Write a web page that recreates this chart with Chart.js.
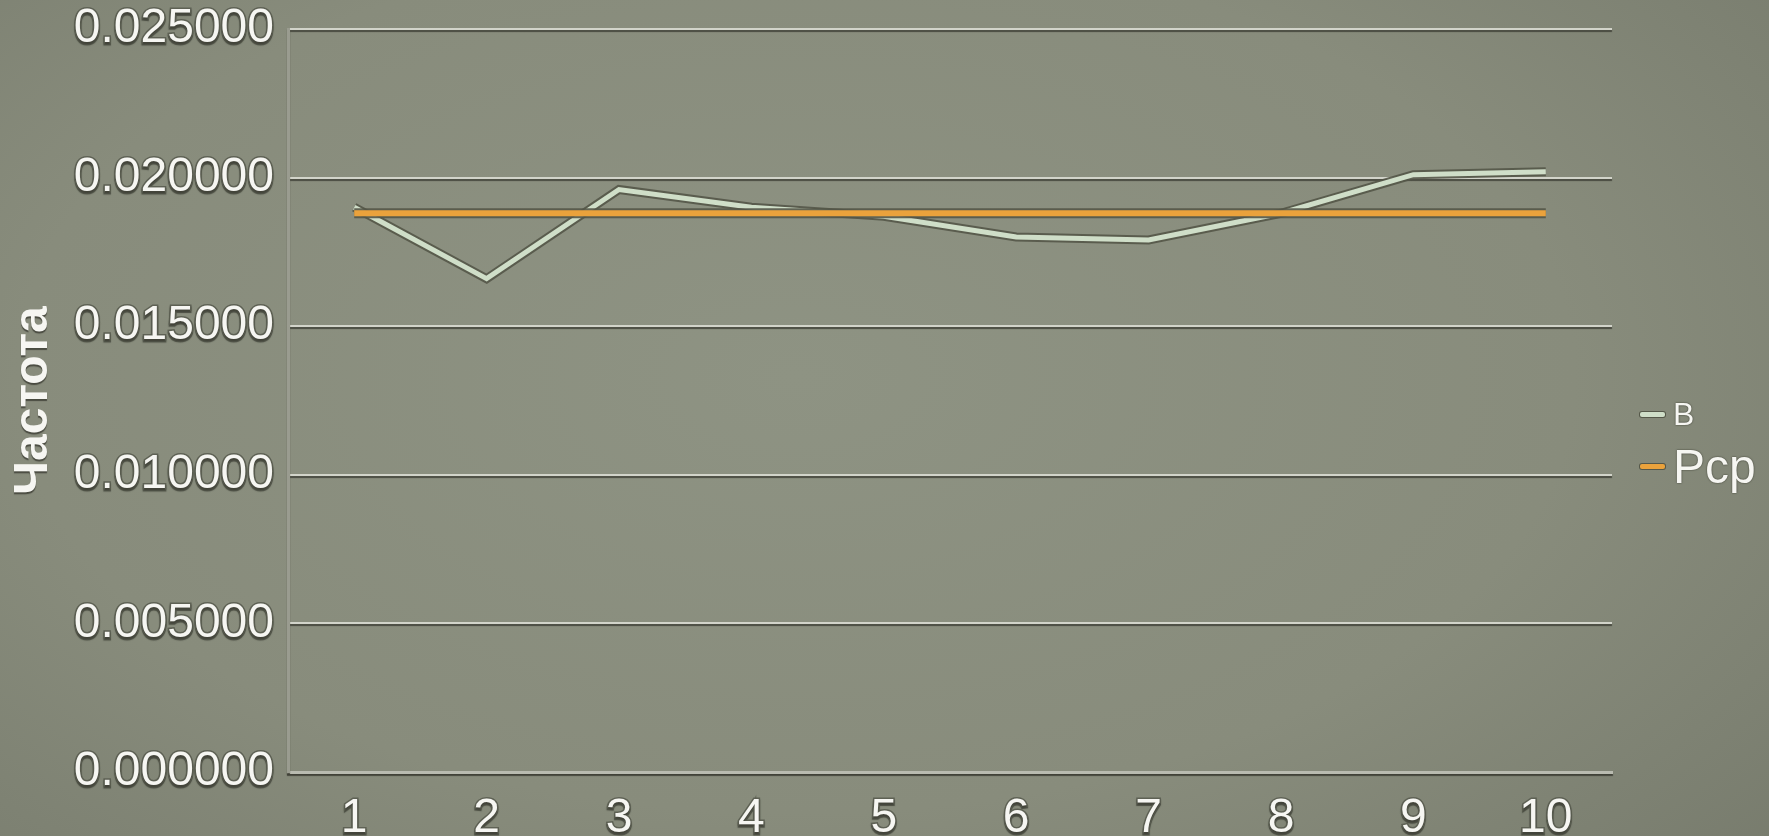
<!DOCTYPE html>
<html>
<head>
<meta charset="utf-8">
<script src="https://cdn.jsdelivr.net/npm/chart.js@4.4.0/dist/chart.umd.min.js"></script>
<style>
  html, body { margin: 0; padding: 0; overflow: hidden; }
  body {
    width: 1769px; height: 836px; position: relative;
    background: radial-gradient(ellipse 80% 95% at 45% 45%, #8e9383 0%, #888c7c 55%, #74786a 100%);
    font-family: "Liberation Sans", Arial, sans-serif;
  }
  #myChart { position: absolute; left: 0; top: 0; }
  #legend { position: absolute; left: 1640px; top: 388px; }
  .item { display: flex; align-items: center; height: 52px; }
  .sw { width: 25px; height: 5px; margin-right: 8px; border-radius: 2px;
        box-shadow: 0 0 0 1px rgba(80, 82, 68, 0.9); }
  .lbl { color: #f6f6f2; text-shadow: 0 0 2px rgba(70, 72, 60, 1), 0 0 1px rgba(70, 72, 60, 1); }
</style>
</head>
<body>
<canvas id="myChart" width="1769" height="836"></canvas>
<div id="legend"></div>
<script>
// data
const categories = ['1', '2', '3', '4', '5', '6', '7', '8', '9', '10'];
const seriesB = [0.0190, 0.0166, 0.0196, 0.0190, 0.0187, 0.0180, 0.0179, 0.0188, 0.0201, 0.0202];
const seriesPcp = [0.0188, 0.0188, 0.0188, 0.0188, 0.0188, 0.0188, 0.0188, 0.0188, 0.0188, 0.0188];
const seriesNames = ['В', 'Рср'];
const yTicks = [0, 0.005, 0.010, 0.015, 0.020, 0.025];

// styles
const lineColors = ['#cfdec8', '#eaa23c'];
const legendSizes = [32, 48];
const textWhite = '#f6f6f2';
const textEdge = 'rgba(92, 95, 82, 0.95)';

// dark rim under each line, traced through the line's own points
const rimPlugin = {
    id: 'rims',
    beforeDraw(chart) {
        const c = chart.ctx;
        c.save();
        c.shadowColor = 'rgba(62, 64, 54, 0.85)';
        c.shadowOffsetY = 2;
        c.shadowBlur = 1;
    },
    afterDraw(chart) {
        chart.ctx.restore();
    },
    beforeDatasetDraw(chart, args) {
        const c = chart.ctx;
        const pts = args.meta.data;
        const bw = args.meta.dataset.options.borderWidth;
        c.save();
        c.shadowColor = 'rgba(0,0,0,0)';
        c.strokeStyle = 'rgba(84, 86, 72, 0.9)';
        c.lineWidth = bw + 4;
        c.lineJoin = 'miter';
        c.lineCap = 'butt';
        c.beginPath();
        pts.forEach((p, i) => i ? c.lineTo(p.x, p.y) : c.moveTo(p.x, p.y));
        c.stroke();
        c.restore();
        c.save();
        c.shadowColor = 'rgba(0,0,0,0)';
    },
    afterDatasetDraw(chart) {
        chart.ctx.restore();
    }
};

const ctx = document.getElementById('myChart').getContext('2d');
const data = {
    labels: categories,
    datasets: [
        { label: seriesNames[0], data: seriesB, borderColor: lineColors[0], borderWidth: 5, pointRadius: 0, tension: 0, fill: false, order: 2, borderJoinStyle: 'miter' },
        { label: seriesNames[1], data: seriesPcp, borderColor: lineColors[1], borderWidth: 6, pointRadius: 0, tension: 0, fill: false, order: 1 }
    ]
};

const tickFont = { family: '"Liberation Sans", Arial, sans-serif', size: 48 };

const options = {
    responsive: false,
    animation: false,
    maintainAspectRatio: false,
    layout: { padding: { top: 29, right: 157, left: 0, bottom: 0 } },
    plugins: {
        legend: { display: false },
        tooltip: { enabled: false }
    },
    scales: {
        x: {
            offset: true,
            grid: { display: false },
            border: { display: true, color: '#b9bbb0', width: 3 },
            ticks: {
                font: tickFont, color: textWhite, padding: 10,
                textStrokeColor: textEdge, textStrokeWidth: 3,
                maxRotation: 0, autoSkip: false
            },
            afterFit: s => { s.height = 64; }
        },
        y: {
            min: 0,
            max: 0.025,
            afterBuildTicks: s => { s.ticks = yTicks.map(v => ({ value: v })); },
            afterFit: s => { s.width = 288; s.paddingTop = 20; s.paddingBottom = 20; },
            grid: { color: '#d2d4ca', lineWidth: 2, drawTicks: false },
            border: { display: true, color: '#9a9c90', width: 3 },
            ticks: {
                font: tickFont, color: textWhite, padding: 14,
                textStrokeColor: textEdge, textStrokeWidth: 3,
                callback: v => Number(v).toFixed(6)
            },
            title: {
                display: true,
                text: 'Частота',
                color: textWhite,
                font: { family: '"Liberation Sans", Arial, sans-serif', size: 48, weight: 'bold' },
                padding: { top: 5, bottom: 0 }
            }
        }
    }
};

const myChart = new Chart(ctx, {
    type: 'line',
    data: data,
    options: options,
    plugins: [rimPlugin]
});

// legend built from the datasets
const legend = document.getElementById('legend');
myChart.data.datasets.forEach((ds, i) => {
    const item = document.createElement('div');
    item.className = 'item';
    const sw = document.createElement('span');
    sw.className = 'sw';
    sw.style.background = ds.borderColor;
    const lbl = document.createElement('span');
    lbl.className = 'lbl';
    lbl.style.fontSize = legendSizes[i] + 'px';
    lbl.textContent = ds.label;
    item.appendChild(sw);
    item.appendChild(lbl);
    legend.appendChild(item);
});
</script>
</body>
</html>
